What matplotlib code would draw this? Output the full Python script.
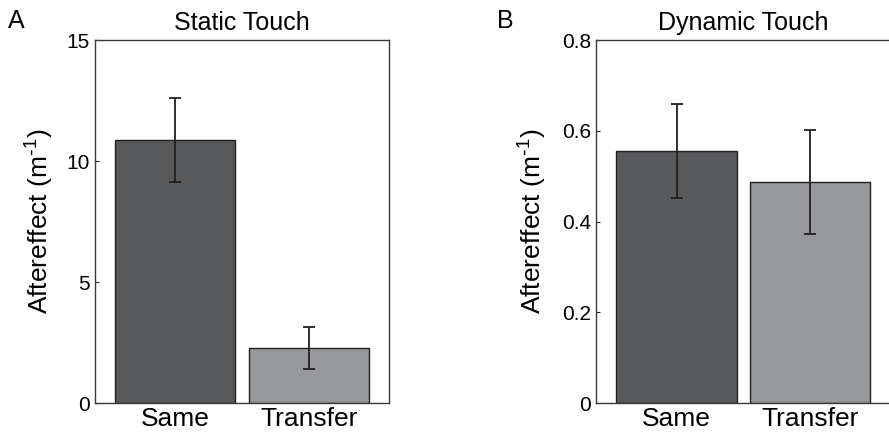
import numpy as np
import matplotlib
matplotlib.use("Agg")
import matplotlib.pyplot as plt

# donnees
conditions = ["Same", "Transfer"]
static_mean = [10.86, 2.26]
static_err = [1.73, 0.87]
dynamic_mean = [0.556, 0.487]
dynamic_err = [0.103, 0.115]

plt.rcParams['font.family'] = ['Liberation Sans', 'DejaVu Sans']
plt.rcParams['mathtext.default'] = 'regular'

dark = '#58595b'
light = '#97989b'
edge = '#231f20'

fig = plt.figure(figsize=(8.89, 4.32), dpi=100)
axA = fig.add_axes([0.1069, 0.0671, 0.3307, 0.840])
axB = fig.add_axes([0.6708, 0.0671, 0.3307, 0.840])

def panel(ax, means, errs, ylim, yticks, yticklabels, title, labx):
    x = np.arange(1, len(means) + 1)
    ax.bar(x, means, width=0.9, color=[dark, light], edgecolor=edge, linewidth=1.0, zorder=2)
    ax.errorbar(x, means, yerr=errs, fmt='none', ecolor=edge, elinewidth=1.3,
                capsize=4.5, capthick=1.3, zorder=3)
    ax.set_xlim(0.4, 2.6)
    ax.set_ylim(*ylim)
    ax.set_yticks(yticks)
    ax.set_yticklabels(yticklabels)
    ax.set_xticks(x)
    ax.set_xticklabels(conditions, fontsize=19)
    ax.tick_params(axis='y', direction='in', length=3, width=0.8, labelsize=15, pad=4, color=edge)
    ax.tick_params(axis='x', length=0, pad=3)
    for s in ax.spines.values():
        s.set_color('#3a3a3a')
        s.set_linewidth(1.0)
    ax.set_title(title, fontsize=18, pad=7)
    ax.set_ylabel(r'Aftereffect (m$^{\text{-}1}$)', fontsize=19)
    ax.yaxis.set_label_coords(labx, 0.5)

panel(axA, static_mean, static_err, (0, 15), [0, 5, 10, 15], ['0', '5', '10', '15'],
      'Static Touch', -0.133)
panel(axB, dynamic_mean, dynamic_err, (0, 0.8), [0, 0.2, 0.4, 0.6, 0.8],
      ['0', '0.2', '0.4', '0.6', '0.8'], 'Dynamic Touch', -0.161)

fig.text(0.009, 0.935, 'A', fontsize=18)
fig.text(0.559, 0.935, 'B', fontsize=18)

fig.savefig('out.png', dpi=100)
